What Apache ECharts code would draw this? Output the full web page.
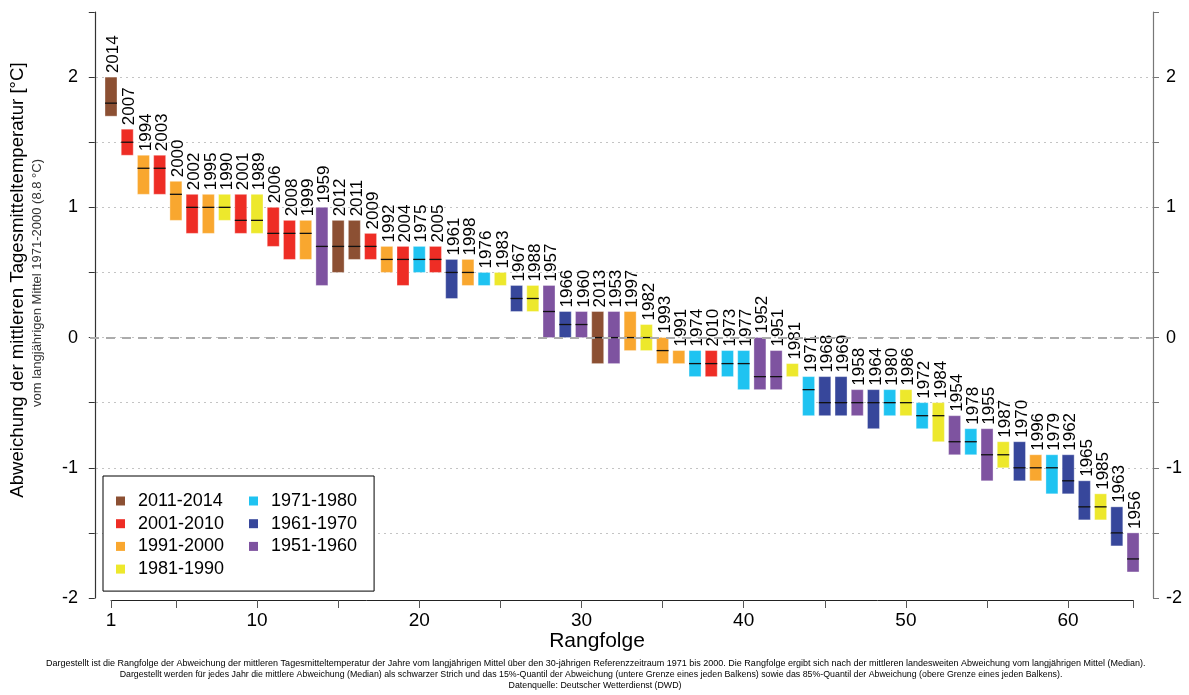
<!DOCTYPE html>
<html>
<head>
<meta charset="utf-8">
<script src="https://cdn.jsdelivr.net/npm/echarts@6/dist/echarts.min.js"></script>
<style>
html,body{margin:0;padding:0;background:#fff;}
#chart{width:1189px;height:695px;}
</style>
</head>
<body>
<div id="chart"></div>
<script>
// Years ordered by rank (warmest first)
const years = [2014, 2007, 1994, 2003, 2000, 2002, 1995, 1990, 2001, 1989, 2006, 2008, 1999, 1959, 2012, 2011,
  2009, 1992, 2004, 1975, 2005, 1961, 1998, 1976, 1983, 1967, 1988, 1957, 1966, 1960, 2013, 1953,
  1997, 1982, 1993, 1991, 1974, 2010, 1973, 1977, 1952, 1951, 1981, 1971, 1968, 1969, 1958, 1964,
  1980, 1986, 1972, 1984, 1954, 1978, 1955, 1987, 1970, 1996, 1979, 1962, 1965, 1985, 1963, 1956];
// 15% quantile (bar bottom)
const q15 = [1.7, 1.4, 1.1, 1.1, 0.9, 0.8, 0.8, 0.9, 0.8, 0.8, 0.7, 0.6, 0.6, 0.4, 0.5, 0.6,
  0.6, 0.5, 0.4, 0.5, 0.5, 0.3, 0.4, 0.4, 0.4, 0.2, 0.2, 0.0, 0.0, 0.0, -0.2, -0.2,
  -0.1, -0.1, -0.2, -0.2, -0.3, -0.3, -0.3, -0.4, -0.4, -0.4, -0.3, -0.6, -0.6, -0.6, -0.6, -0.7,
  -0.6, -0.6, -0.7, -0.8, -0.9, -0.9, -1.1, -1.0, -1.1, -1.1, -1.2, -1.2, -1.4, -1.4, -1.6, -1.8];
// median (black line); null where the line is not visible
const median = [1.8, 1.5, 1.3, 1.3, 1.1, 1.0, 1.0, 1.0, 0.9, 0.9, 0.8, 0.8, 0.8, 0.7, 0.7, 0.7,
  0.7, 0.6, 0.6, 0.6, 0.6, 0.5, 0.5, null, null, 0.3, 0.3, 0.2, 0.1, 0.1, 0.0, 0.0,
  0.0, 0.0, -0.1, null, -0.2, -0.2, -0.2, -0.2, -0.3, -0.3, null, -0.4, -0.5, -0.5, -0.5, -0.5,
  -0.5, -0.5, -0.6, -0.6, -0.8, -0.8, -0.9, -0.9, -1.0, -1.0, -1.0, -1.1, -1.3, -1.3, -1.5, -1.7];
// 85% quantile (bar top)
const q85 = [2.0, 1.6, 1.4, 1.4, 1.2, 1.1, 1.1, 1.1, 1.1, 1.1, 1.0, 0.9, 0.9, 1.0, 0.9, 0.9,
  0.8, 0.7, 0.7, 0.7, 0.7, 0.6, 0.6, 0.5, 0.5, 0.4, 0.4, 0.4, 0.2, 0.2, 0.2, 0.2,
  0.2, 0.1, 0.0, -0.1, -0.1, -0.1, -0.1, -0.1, 0.0, -0.1, -0.2, -0.3, -0.3, -0.3, -0.4, -0.4,
  -0.4, -0.4, -0.5, -0.5, -0.6, -0.7, -0.7, -0.8, -0.8, -0.9, -0.9, -0.9, -1.1, -1.2, -1.3, -1.5];

const decades = ['2011-2014', '2001-2010', '1991-2000', '1981-1990', '1971-1980', '1961-1970', '1951-1960'];
const decadeStart = [2011, 2001, 1991, 1981, 1971, 1961, 1951];
const decadeColors = ['#8c5033', '#ee2d25', '#f9a72f', '#ede82c', '#1fc3f1', '#37479b', '#7e53a0'];

const yTicks = [2, 1, 0, -1, -2];
const xTickValues = [1, 5, 10, 15, 20, 25, 30, 35, 40, 45, 50, 55, 60, 64];
const xLabelValues = [1, 10, 20, 30, 40, 50, 60];

function decadeOf(y) {
  for (let i = 0; i < decadeStart.length; i++) if (y >= decadeStart[i]) return i;
  return decadeStart.length - 1;
}

const FONT = 'Liberation Sans, Arial, Helvetica, sans-serif';

const seriesData = decades.map(() => []);
years.forEach((y, i) => {
  seriesData[decadeOf(y)].push([i + 1, q15[i], median[i] == null ? NaN : median[i], q85[i], y]);
});

function renderItem(params, api) {
  const rank = api.value(0);
  const lo = api.value(1), med = api.value(2), hi = api.value(3), yr = api.value(4);
  const pTop = api.coord([rank, hi]);
  const pBot = api.coord([rank, lo]);
  const w = api.size([1, 0])[0] * 0.74;
  const color = api.visual('color');
  const children = [{
    type: 'rect',
    shape: { x: pTop[0] - w / 2, y: pTop[1], width: w, height: pBot[1] - pTop[1] },
    style: { fill: color, stroke: 'rgba(255,255,255,0.35)', lineWidth: 1 }
  }];
  if (!isNaN(med)) {
    const pm = api.coord([rank, med]);
    children.push({
      type: 'line',
      shape: { x1: pTop[0] - w / 2, y1: pm[1], x2: pTop[0] + w / 2, y2: pm[1] },
      style: { stroke: '#111', lineWidth: 1.3 }
    });
  }
  children.push({
    type: 'text',
    x: pTop[0] + 2.5, y: pTop[1] - 4,
    rotation: Math.PI / 2,
    style: { text: String(yr), x: 0, y: 0, align: 'left', verticalAlign: 'middle',
      font: '17px ' + FONT, fill: '#000' }
  });
  return { type: 'group', children: children };
}

const series = decades.map((d, k) => ({
  name: d,
  type: 'custom',
  xAxisIndex: 0, yAxisIndex: 0,
  renderItem: renderItem,
  itemStyle: { color: decadeColors[k] },
  encode: { x: 0, y: [1, 3] },
  data: seriesData[k],
  z: 3,
  silent: true
}));
series.push({
  name: 'zero',
  type: 'line',
  xAxisIndex: 0, yAxisIndex: 0,
  data: [],
  z: 1,
  silent: true,
  markLine: {
    silent: true,
    symbol: 'none',
    label: { show: false },
    lineStyle: { type: [9, 7], color: '#acacac', width: 2 },
    data: [{ yAxis: 0 }]
  }
});

const chart = echarts.init(document.getElementById('chart'), null, { renderer: 'canvas' });
const legendText = { fontSize: 18, fontFamily: FONT, color: '#000', padding: [0, 0, 0, 8], lineHeight: 18 };
chart.setOption({
  animation: false,
  backgroundColor: '#fff',
  grid: [
    { left: 90, right: 36, top: 12, bottom: 97 },
    { left: 111, right: 56, top: 599, height: 1 }
  ],
  xAxis: [
    { gridIndex: 0, type: 'value', min: -0.295, max: 65.23, show: false },
    {
      gridIndex: 1, type: 'value', min: 1, max: 64, position: 'bottom',
      axisLine: { show: true, lineStyle: { color: '#222', width: 1 } },
      axisTick: { show: true, length: 8, lineStyle: { color: '#555' }, customValues: xTickValues },
      axisLabel: { fontSize: 19, fontFamily: FONT, color: '#000', margin: 11, customValues: xLabelValues },
      splitLine: { show: false }
    }
  ],
  yAxis: [
    {
      gridIndex: 0, type: 'value', min: -2, max: 2.5, interval: 0.5, position: 'left',
      axisLine: { show: true, lineStyle: { color: '#333', width: 1.2 } },
      axisTick: { show: true, inside: false, length: 6, lineStyle: { color: '#333' } },
      axisLabel: { fontSize: 18, fontFamily: FONT, color: '#000', margin: 12,
        formatter: v => (yTicks.indexOf(v) >= 0 ? String(v) : '') },
      splitLine: { show: true, showMinLine: false, showMaxLine: false,
        lineStyle: { type: [2, 4], color: '#c4c4c4', width: 1 } }
    },
    {
      gridIndex: 0, type: 'value', min: -2, max: 2.5, interval: 0.5, position: 'right',
      axisLine: { show: true, lineStyle: { color: '#777', width: 1.2 } },
      axisTick: { show: true, inside: false, length: 6, lineStyle: { color: '#777' } },
      axisLabel: { fontSize: 18, fontFamily: FONT, color: '#000', margin: 13,
        formatter: v => (yTicks.indexOf(v) >= 0 ? String(v) : '') },
      splitLine: { show: false }
    },
    { gridIndex: 1, type: 'value', show: false }
  ],
  legend: [
    {
      data: decades.slice(0, 4), orient: 'vertical', left: 103, top: 476,
      icon: 'rect', itemWidth: 9, itemHeight: 9, itemGap: 4.7,
      padding: [16, 150, 13, 13],
      borderColor: '#000', borderWidth: 1, backgroundColor: '#fff',
      textStyle: legendText, selectedMode: false
    },
    {
      data: decades.slice(4), orient: 'vertical', left: 244, top: 476,
      icon: 'rect', itemWidth: 9, itemHeight: 9, itemGap: 4.7,
      padding: [16, 5, 13, 5],
      textStyle: legendText, selectedMode: false
    }
  ],
  graphic: [
    { type: 'text', x: 18, y: 280, rotation: Math.PI / 2,
      style: { text: 'Abweichung der mittleren Tagesmitteltemperatur [°C]', font: '18.6px ' + FONT,
        fill: '#000', align: 'center', verticalAlign: 'middle' } },
    { type: 'text', x: 37, y: 283, rotation: Math.PI / 2,
      style: { text: 'vom langjährigen Mittel 1971-2000 (8.8 °C)', font: '13px ' + FONT,
        fill: '#333', align: 'center', verticalAlign: 'middle' } },
    { type: 'text', x: 597, y: 641,
      style: { text: 'Rangfolge', font: '21px ' + FONT,
        fill: '#000', align: 'center', verticalAlign: 'middle' } },
    { type: 'text', x: 46, y: 664,
      style: { text: 'Dargestellt ist die Rangfolge der Abweichung der mittleren Tagesmitteltemperatur der Jahre vom langjährigen Mittel über den 30-jährigen Referenzzeitraum 1971 bis 2000. Die Rangfolge ergibt sich nach der mittleren landesweiten Abweichung vom langjährigen Mittel (Median).',
        font: '9px ' + FONT, fill: '#000', align: 'left', verticalAlign: 'middle' } },
    { type: 'text', x: 591, y: 675,
      style: { text: 'Dargestellt werden für jedes Jahr die mittlere Abweichung (Median) als schwarzer Strich und das 15%-Quantil der Abweichung (untere Grenze eines jeden Balkens) sowie das 85%-Quantil der Abweichung (obere Grenze eines jeden Balkens).',
        font: '8.8px ' + FONT, fill: '#000', align: 'center', verticalAlign: 'middle' } },
    { type: 'text', x: 595, y: 686,
      style: { text: 'Datenquelle: Deutscher Wetterdienst (DWD)',
        font: '8.8px ' + FONT, fill: '#000', align: 'center', verticalAlign: 'middle' } }
  ],
  series: series
});
</script>
</body>
</html>
